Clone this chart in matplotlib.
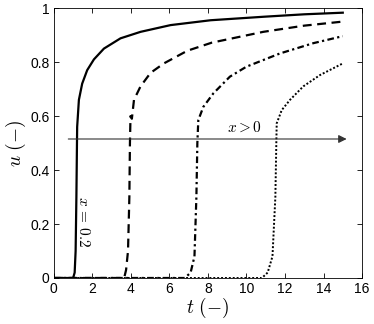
import numpy as np
import matplotlib.pyplot as plt

plt.rcParams['mathtext.fontset'] = 'cm'
plt.rcParams['font.family'] = ['Liberation Sans', 'DejaVu Sans']

# curve data (t, u)
t_a = [0, 1.0, 1.08, 1.13, 1.17, 1.2, 1.21, 1.3, 1.47, 1.73, 2.08, 2.6, 3.46, 4.5,
       6.06, 8.14, 10.9, 13, 15]
u_a = [0, 0, 0.02, 0.1, 0.3, 0.5, 0.56, 0.66, 0.72, 0.77, 0.81, 0.85, 0.888, 0.912,
       0.937, 0.955, 0.968, 0.977, 0.983]

t_b = [0, 3.65, 3.75, 3.85, 3.92, 3.95, 3.98, 4.05, 4.16, 4.5, 5.02, 5.71, 6.93,
       8.2, 10.87, 13, 15]
u_b = [0, 0, 0.03, 0.1, 0.3, 0.5, 0.6, 0.59, 0.66, 0.71, 0.76, 0.795, 0.842,
       0.872, 0.912, 0.935, 0.95]

t_c = [0, 6.8, 7.1, 7.3, 7.4, 7.45, 7.5, 7.76, 8.28, 9.14, 10.0, 11.74, 13.47, 15]
u_c = [0, 0, 0.02, 0.08, 0.3, 0.5, 0.585, 0.634, 0.684, 0.746, 0.783, 0.832, 0.87, 0.896]

t_d = [0, 10.8, 11.1, 11.35, 11.5, 11.55, 11.57, 11.83, 12.26, 12.95, 13.82, 15]
u_d = [0, 0, 0.02, 0.08, 0.3, 0.5, 0.573, 0.622, 0.66, 0.71, 0.752, 0.795]

fig = plt.figure(figsize=(3.74, 3.24), dpi=100)
ax = fig.add_axes([0.144, 0.142, 0.824, 0.833])

ax.plot(t_a, u_a, color='black', lw=1.6, ls='-')
ax.plot(t_b, u_b, color='black', lw=1.6, ls=(0, (4, 2.5)))
ax.plot(t_c, u_c, color='black', lw=1.6, ls=(0, (3, 1.5, 1, 1.5)))
ax.plot(t_d, u_d, color='black', lw=1.4, ls=(0, (1, 1)))

# arrow showing increasing x
ax.annotate('', xy=(15.2, 0.515), xytext=(0.75, 0.515),
            arrowprops=dict(arrowstyle='-|>', color='#333333', lw=0.8,
                            mutation_scale=12, shrinkA=0, shrinkB=0))
ax.text(9.9, 0.53, r'$x > 0$', fontsize=11, ha='center', va='bottom')
ax.text(1.55, 0.21, r'$x\,=\,0.2$', fontsize=11, ha='center', va='center',
        rotation=-90)

ax.set_xlim(0, 16)
ax.set_ylim(0, 1)
ax.set_xticks(np.arange(0, 17, 2))
ax.set_yticks([0, 0.2, 0.4, 0.6, 0.8, 1])
ax.set_yticklabels(['0', '0.2', '0.4', '0.6', '0.8', '1'])
ax.tick_params(direction='in', top=True, right=True, labelsize=10, length=3.5,
               width=0.6, pad=3)
for s in ax.spines.values():
    s.set_linewidth(0.6)

ax.set_xlabel(r'$t\ (-)$', fontsize=14, labelpad=0)
ax.set_ylabel(r'$u\ (-)$', fontsize=14, labelpad=2)

fig.savefig('out.png', dpi=100)
